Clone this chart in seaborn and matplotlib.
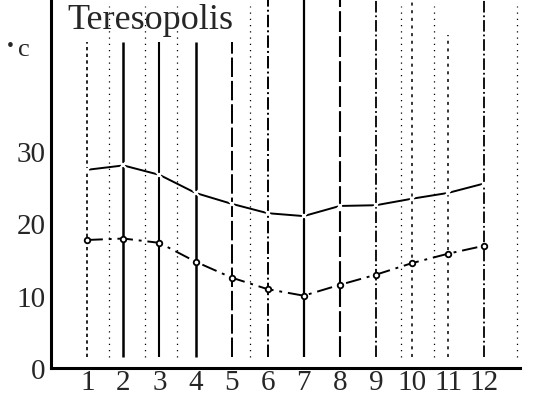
import numpy as np
import pandas as pd
import matplotlib
matplotlib.use("Agg")
import matplotlib.pyplot as plt
import seaborn as sns

months = [1, 2, 3, 4, 5, 6, 7, 8, 9, 10, 11, 12]
t_max = [27.4, 28.0, 26.7, 24.2, 22.7, 21.4, 21.0, 22.4, 22.5, 23.4, 24.2, 25.5]
t_min = [17.7, 17.9, 17.3, 14.7, 12.5, 10.9, 10.0, 11.5, 12.9, 14.5, 15.8, 16.9]
y_ticks = [0, 10, 20, 30, 40]
y_labels = ["0", "10", "20", "30", ""]

sns.set_style("white")
plt.rcParams['font.family'] = ['Liberation Serif', 'DejaVu Serif']

df = pd.DataFrame({"month": months, "max": t_max, "min": t_min})

fig = plt.figure(figsize=(5.51, 4.06), dpi=100)
ax = fig.add_axes([0.093, 0.091, 0.851, 0.909])

# scanned vertical rules at each month
vstyles = [(0, (2, 2)), "-", "-", "-", (0, (10, 2)), "-.", "-", (0, (10, 2)),
           "-.", (0, (2, 3)), (0, (2, 3)), "-."]
vwidths = [1.2, 1.8, 1.5, 1.8, 1.4, 1.4, 1.6, 1.5, 1.3, 1.1, 1.1, 1.3]
vtops = [45, 45, 45, 45, 45, 51, 51, 51, 51, 51, 46, 51]
for m, ls, lw, top in zip(months, vstyles, vwidths, vtops):
    ax.vlines(m, 1.5, top, colors="black", linestyles=ls, linewidth=lw)
for m in [1.6, 2.6, 3.5, 5.5, 9.7, 10.6, 12.9]:
    ax.vlines(m, 1.5, 50, colors="black", linestyles=(0, (1, 4)), linewidth=0.9)

sns.lineplot(data=df, x="month", y="max", ax=ax, color="black", linewidth=1.4,
             marker="x", markersize=5, markeredgewidth=1.5)
sns.lineplot(data=df, x="month", y="min", ax=ax, color="black", linewidth=1.4,
             linestyle=(0, (8, 3, 1.5, 3)), marker="o", markersize=4,
             markerfacecolor="white", markeredgecolor="black", markeredgewidth=1.3)

ax.set_xlim(0, 13)
ax.set_ylim(0, 51)
ax.set_xticks(months)
ax.set_xticklabels([str(m) for m in months], fontsize=21)
ax.set_yticks(y_ticks)
ax.set_yticklabels(y_labels, fontsize=21)
ax.tick_params(axis="y", direction="inout", length=6, width=1.5, pad=1)
ax.tick_params(axis="x", length=0, pad=1)
ax.set_xlabel("")
ax.set_ylabel("")
for side in ["top", "right"]:
    ax.spines[side].set_visible(False)
for side in ["left", "bottom"]:
    ax.spines[side].set_linewidth(2.2)
    ax.spines[side].set_color("black")
ax.grid(False)

fig.text(0.122, 0.99, "Teresopolis", fontsize=26, va="top", ha="left")
fig.text(0.012, 0.875, "•", fontsize=14)
fig.text(0.032, 0.862, "c", fontsize=19)

fig.savefig("out.png", dpi=100)
